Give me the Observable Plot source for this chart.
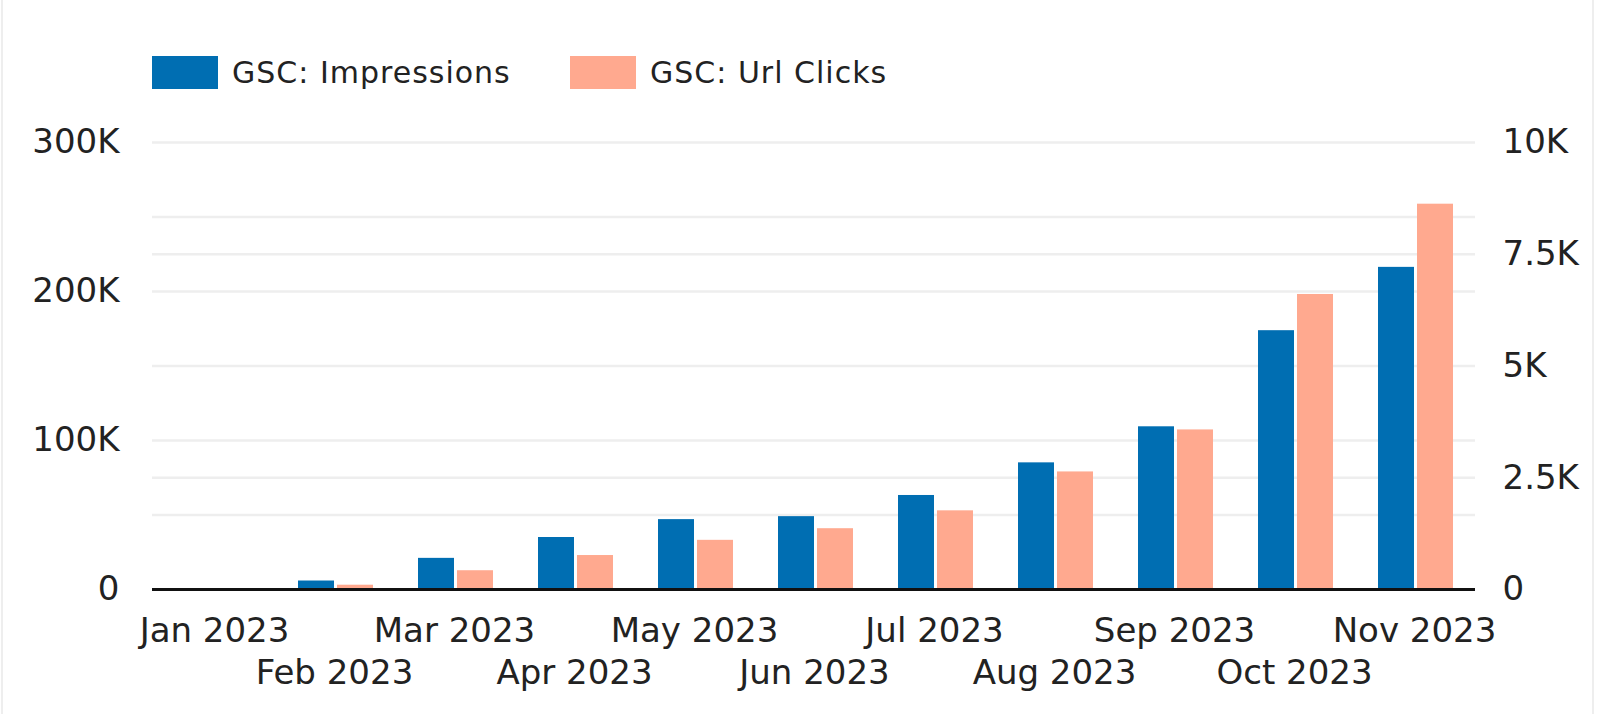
<!DOCTYPE html>
<html>
<head>
<meta charset="utf-8">
<script src="https://cdn.jsdelivr.net/npm/d3@7"></script>
<script src="https://cdn.jsdelivr.net/npm/@observablehq/plot@0.6"></script>
<style>
  body { margin: 0; background: #fff; font-family: "DejaVu Sans", sans-serif; }
  #wrap { position: relative; width: 1600px; height: 714px; overflow: hidden; }
  #frame { position: absolute; left: 1px; top: 0; width: 1593px; height: 714px; border-left: 2px solid #eeeeee; border-right: 2px solid #eeeeee; box-sizing: border-box; pointer-events: none; }
  #legend { height: 110px; display: flex; align-items: center; padding-left: 152px; padding-top: 35px; box-sizing: border-box; }
  .item { display: flex; align-items: center; font-size: 30px; letter-spacing: 1px; color: #222; }
  .sw { width: 66px; height: 33px; margin-right: 14px; }
  #chart svg { display: block; }
</style>
</head>
<body>
<div id="wrap">
  <div id="frame"></div>
  <div id="legend"></div>
  <div id="chart"></div>
</div>
<script>
const months = ["Jan 2023", "Feb 2023", "Mar 2023", "Apr 2023", "May 2023", "Jun 2023",
                "Jul 2023", "Aug 2023", "Sep 2023", "Oct 2023", "Nov 2023"];
const impressions = [0, 5700, 20900, 34900, 46900, 48900, 63100, 85000, 109200, 173700, 216200];
const clicks = [0, 96, 420, 760, 1100, 1360, 1760, 2630, 3570, 6600, 8620];
const seriesNames = ["GSC: Impressions", "GSC: Url Clicks"];
const seriesColors = ["#006EB2", "#FFA98F"];
const leftTicks = [0, 100000, 200000, 300000];
const rightTicks = [0, 2500, 5000, 7500, 10000];
const gridLeft = [50000, 100000, 150000, 200000, 250000, 300000];
const gridRight = [2500, 7500];
const leftMax = 300000;
const rightMax = 10000;
const ratio = leftMax / rightMax;

const data = months.map((m, i) => ({ month: m, impressions: impressions[i], clicks: clicks[i] }));
const fmtK = v => v === 0 ? "0" : (v / 1000) + "K";

// legend
const legend = document.getElementById("legend");
seriesNames.forEach((name, i) => {
  const item = document.createElement("div");
  item.className = "item";
  if (i === 0) item.style.width = "418px";
  const sw = document.createElement("div");
  sw.className = "sw";
  sw.style.background = seriesColors[i];
  const t = document.createElement("span");
  t.textContent = name;
  item.appendChild(sw);
  item.appendChild(t);
  legend.appendChild(item);
});

const chart = Plot.plot({
  width: 1600,
  height: 604,
  marginTop: 32,
  marginBottom: 125,
  marginLeft: 152,
  marginRight: 125,
  style: { fontFamily: "DejaVu Sans, sans-serif", fontSize: "34px", color: "#222", background: "transparent", overflow: "visible" },
  x: { domain: months, padding: 0, axis: null },
  y: { domain: [0, leftMax], axis: null },
  marks: [
    Plot.gridY(gridLeft.concat(gridRight.map(v => v * ratio)), { stroke: "#eeeeee", strokeOpacity: 1, strokeWidth: 2.5 }),
    Plot.barY(data, { x: "month", y: "impressions", fill: seriesColors[0], insetLeft: 24, insetRight: 60 }),
    Plot.barY(data, { x: "month", y: d => d.clicks * ratio, fill: seriesColors[1], insetLeft: 63, insetRight: 21 }),
    Plot.ruleY([0], { stroke: "#111", strokeWidth: 3 }),
    Plot.axisY(leftTicks, { anchor: "left", tickSize: 0, tickPadding: 33, tickFormat: fmtK, label: null }),
    Plot.axisY(rightTicks.map(v => v * ratio), { anchor: "right", tickSize: 0, tickPadding: 27, tickFormat: d => fmtK(d / ratio), label: null }),
    Plot.axisX(months.filter((m, i) => i % 2 === 0), { anchor: "bottom", tickSize: 0, tickPadding: 28, label: null }),
    Plot.axisX(months.filter((m, i) => i % 2 === 1), { anchor: "bottom", tickSize: 0, tickPadding: 70, label: null })
  ]
});
document.getElementById("chart").appendChild(chart);
</script>
</body>
</html>
